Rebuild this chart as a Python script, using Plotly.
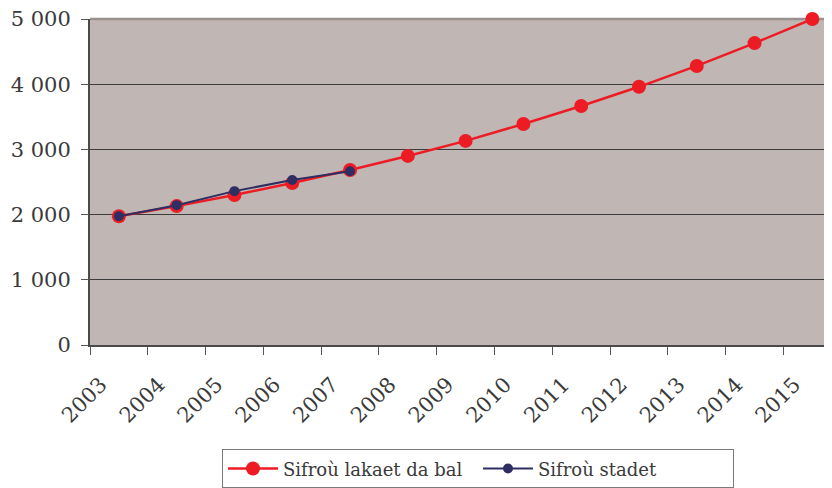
import plotly.graph_objects as go

years = ["2003", "2004", "2005", "2006", "2007", "2008", "2009",
         "2010", "2011", "2012", "2013", "2014", "2015"]
lakaet = [1975, 2130, 2300, 2485, 2685, 2900, 3130, 3390, 3665, 3960, 4280, 4630, 5000]

years_stadet = ["2003", "2004", "2005", "2006", "2007"]
stadet = [1975, 2145, 2360, 2530, 2665]

y_ticks = [0, 1000, 2000, 3000, 4000, 5000]

FONT = "DejaVu Serif"
TXT = "#3a3a3a"

fig = go.Figure()

fig.add_trace(
    go.Scatter(
        x=years,
        y=lakaet,
        mode="lines+markers",
        name="Sifroù lakaet da bal",
        line=dict(color="#ed1c24", width=2.5),
        marker=dict(color="#ed1c24", size=14),
        cliponaxis=False
    )
)

fig.add_trace(
    go.Scatter(
        x=years_stadet,
        y=stadet,
        mode="lines+markers",
        name="Sifroù stadet",
        line=dict(color="#2e2e63", width=2),
        marker=dict(color="#2e2e63", size=10),
        cliponaxis=False
    )
)

# top border of the plot area
fig.add_shape(
    type="line",
    xref="paper", yref="paper",
    x0=0, x1=1, y0=1, y1=1,
    line=dict(color="#9a908d", width=2.5),
    layer="between"
)

# the page body has an 8px margin, so the figure is a bit smaller
fig.update_layout(
    width=824,
    height=480,
    paper_bgcolor="white",
    plot_bgcolor="#c0b7b4",
    separators=", ",
    font=dict(family=FONT, color=TXT, size=18),
    margin=dict(l=82, r=0, t=11, b=143, autoexpand=False),
    showlegend=True,
    legend=dict(
        orientation="h",
        x=(470 - 82) / 742,
        xanchor="center",
        y=-0.32,
        yanchor="top",
        bordercolor="#7a7a7a",
        borderwidth=1,
        font=dict(family=FONT, size=18, color=TXT),
        entrywidth=190,
        itemwidth=50
    ),
    xaxis=dict(
        type="category",
        range=[-0.5, 12.34],
        tickson="boundaries",
        ticks="outside",
        ticklen=8,
        tickcolor="#555555",
        tickangle=-45,
        ticklabelshift=-18,
        ticklabelstandoff=17,
        ticklabeloverflow="allow",
        automargin=False,
        showgrid=False,
        showline=True,
        linecolor="#4a4a4a",
        linewidth=2,
        tickfont=dict(family=FONT, size=21, color=TXT)
    ),
    yaxis=dict(
        range=[0, 5000],
        tickvals=y_ticks,
        tickformat=",d",
        ticks="outside",
        ticklen=7,
        tickcolor="#555555",
        ticklabelstandoff=6,
        ticklabeloverflow="allow",
        automargin=False,
        showgrid=True,
        gridcolor="#3c3c3c",
        gridwidth=1,
        showline=True,
        linecolor="#4a4a4a",
        linewidth=2,
        zeroline=False,
        tickfont=dict(family=FONT, size=21, color=TXT)
    )
)

fig.write_html("out.html")
